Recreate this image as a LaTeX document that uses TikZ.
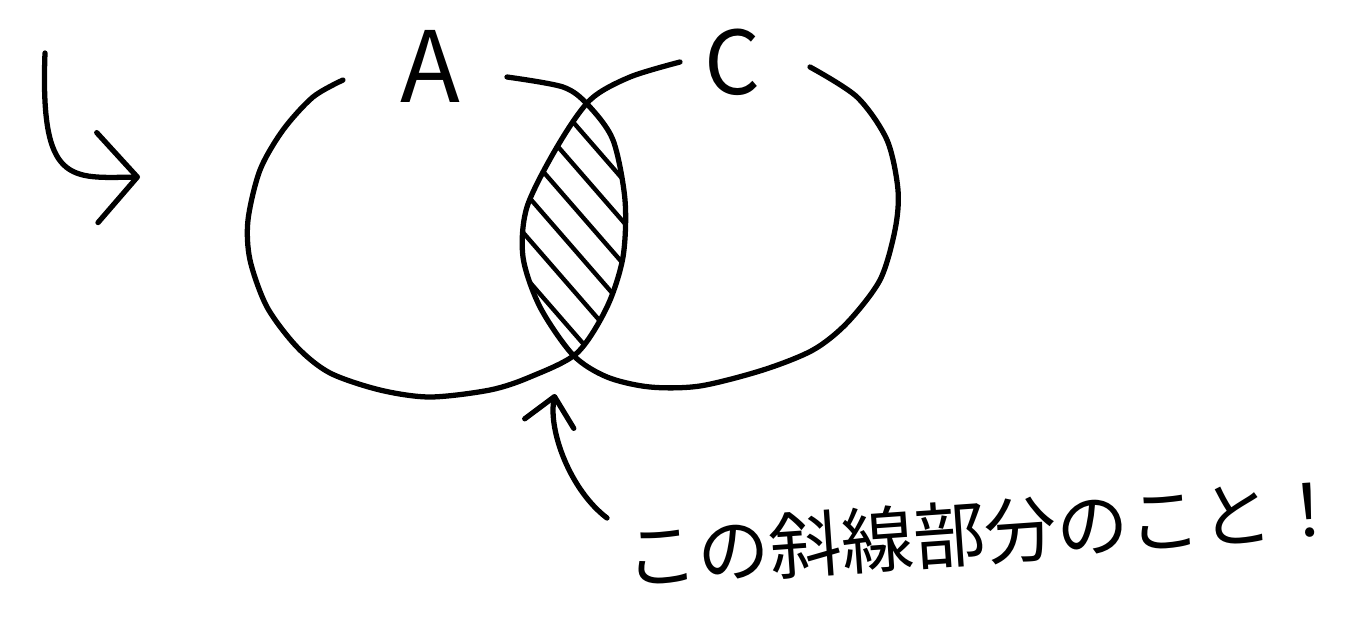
\documentclass[tikz,border=0pt]{standalone}
\usepackage{fontspec}
\setmainfont{Noto Sans CJK JP}
\usetikzlibrary{arrows.meta, calc}

\begin{document}
\begin{tikzpicture}[x=0.02cm, y=-0.02cm,
  pen/.style={line width=3pt, line cap=round, line join=round},
  hatchline/.style={line width=2.5pt, line cap=round},
  handarrow/.style={pen, -{Straight Barb[length=0.8cm, width=1.8cm, round]}},
  smallarrow/.style={pen, -{Straight Barb[length=0.55cm, width=1.0cm, round]}},
  notetext/.style={inner sep=0pt, font=\fontsize{41}{48}\selectfont}]
  \useasboundingbox (0,0) rectangle (1346,616);

  % Set A (open at the top, where its label sits)
  \draw[pen] plot[smooth] coordinates {(507,77) (563,87) (588,105) (613,140)
    (625,200) (623,257) (607,307) (577,353) (530,377) (490,390) (430,397)
    (380,390) (330,373) (297,347) (267,307) (250,260) (248,220) (260,170)
    (283,130) (313,97) (343,80)};

  % Set C
  \draw[pen] plot[smooth] coordinates {(680,62) (630,77) (590,100) (557,147)
    (527,207) (523,257) (540,307) (573,355) (607,377) (650,387) (700,386)
    (763,370) (813,350) (847,323) (880,280) (895,230) (898,190) (887,140)
    (857,97) (810,67)};

  % Hatch the intersection
  \begin{scope}
    \clip plot[smooth cycle] coordinates {(507,77) (563,87) (588,105) (613,140)
      (625,200) (623,257) (607,307) (577,353) (530,377) (490,390) (430,397)
      (380,390) (330,373) (297,347) (267,307) (250,260) (248,220) (260,170)
      (283,130) (313,97) (343,80) (425,72)};
    \clip plot[smooth cycle] coordinates {(680,62) (630,77) (590,100) (557,147)
      (527,207) (523,257) (540,307) (573,355) (607,377) (650,387) (700,386)
      (763,370) (813,350) (847,323) (880,280) (895,230) (898,190) (887,140)
      (857,97) (810,67) (745,55)};
    \foreach \k in {0,...,5}
      \draw[hatchline] (460,{-8+42*\k}) -- (660,{222+42*\k});
  \end{scope}

  % Labels
  \node[inner sep=0pt, font=\fontsize{56}{60}\selectfont] (labelA) at (430,66) {A};
  \node[inner sep=0pt, font=\fontsize{50}{56}\selectfont] (labelC) at (733,62) {C};

  % Arrow on the left
  \coordinate (hookstart) at (45,53);
  \coordinate (hookend) at (140,177);
  \draw[handarrow] (hookstart) .. controls (40,185) and (70,178) .. (hookend);

  % Note and its arrow
  \node[notetext, rotate=4] (note) at (985,532) {この斜線部分のこと！};
  \coordinate (notetail) at (607,518);
  \coordinate (lensbottom) at (555,394);
  \draw[smallarrow] (notetail) .. controls (570,490) and (548,430) .. (lensbottom);
\end{tikzpicture}
\end{document}
